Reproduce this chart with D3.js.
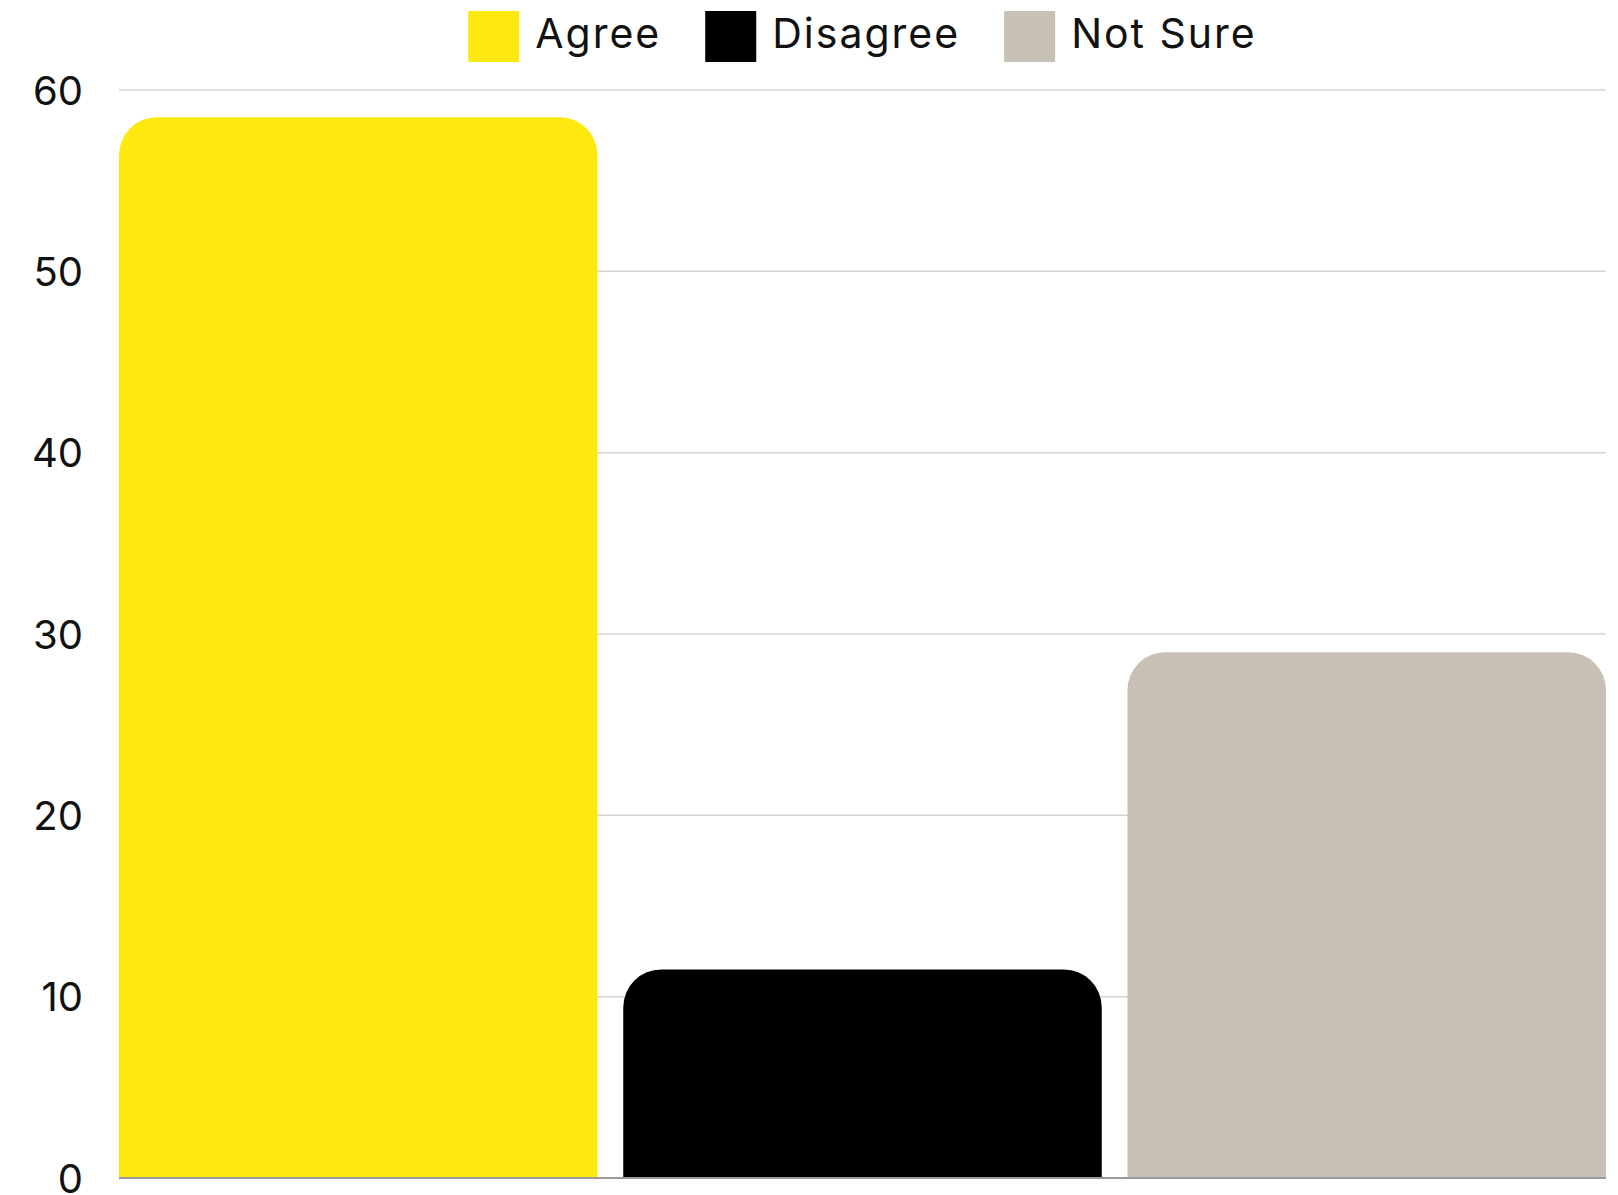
<!DOCTYPE html>
<html>
<head>
<meta charset="utf-8">
<script src="https://cdn.jsdelivr.net/npm/d3@7"></script>
<style>
    body { margin: 0; background: #fff; }
    text { font-family: "Inter", "Noto Sans", sans-serif; fill: #111; }
</style>
</head>
<body>
<div id="chart"></div>
<script>
// answers and shares (%)
const categories = ["Agree", "Disagree", "Not Sure"];
const values = [58.5, 11.5, 29.0];
const colors = ["#fde910", "#000000", "#c8c1b6"];
const yTicks = [0, 10, 20, 30, 40, 50, 60];

const width = 1618, height = 1195;
const margin = {top: 90, right: 12, bottom: 17, left: 119};
const innerW = width - margin.left - margin.right;
const innerH = height - margin.top - margin.bottom;

const svg = d3.select("#chart").append("svg")
    .attr("width", width)
    .attr("height", height);

const g = svg.append("g")
    .attr("transform", `translate(${margin.left}, ${margin.top})`);

const x = d3.scaleBand()
    .domain(categories)
    .range([0, innerW])
    .paddingInner(0.051)
    .paddingOuter(0);

const y = d3.scaleLinear()
    .domain([0, 60])
    .range([innerH, 0]);

// gridlines
g.selectAll(".grid")
    .data(yTicks.filter(d => d > 0))
    .enter().append("line")
    .attr("x1", 0)
    .attr("x2", innerW)
    .attr("y1", d => y(d))
    .attr("y2", d => y(d))
    .attr("stroke", "#d4d4d4")
    .attr("stroke-width", 1.5);

// y labels
g.selectAll(".ylab")
    .data(yTicks)
    .enter().append("text")
    .attr("x", -36)
    .attr("y", d => y(d))
    .attr("text-anchor", "end")
    .attr("dominant-baseline", "central")
    .style("font-size", "40px")
    .text(d => d);

// bars, only the top corners are rounded
const r = 38;
function barPath(x0, y0, w, h) {
    const rr = Math.min(r, h, w / 2);
    return `M${x0},${y0 + h}V${y0 + rr}A${rr},${rr} 0 0 1 ${x0 + rr},${y0}` +
        `H${x0 + w - rr}A${rr},${rr} 0 0 1 ${x0 + w},${y0 + rr}V${y0 + h}Z`;
}

g.selectAll(".bar")
    .data(categories)
    .enter().append("path")
    .attr("class", "bar")
    .attr("fill", (d, i) => colors[i])
    .attr("d", (d, i) => barPath(x(d), y(values[i]), x.bandwidth(), innerH - y(values[i])));

// baseline
g.append("line")
    .attr("x1", 0)
    .attr("x2", innerW)
    .attr("y1", innerH)
    .attr("y2", innerH)
    .attr("stroke", "#9a9a9a")
    .attr("stroke-width", 2);

// legend
const legend = svg.append("g");
const sq = 51, gapText = 16, gapItem = 44;
let cursor = 0;
categories.forEach((c, i) => {
    const item = legend.append("g").attr("transform", `translate(${cursor}, 0)`);
    item.append("rect")
        .attr("x", 0).attr("y", 11)
        .attr("width", sq).attr("height", sq)
        .attr("fill", colors[i]);
    const t = item.append("text")
        .attr("x", sq + gapText)
        .attr("y", 32.5)
        .attr("dominant-baseline", "central")
        .style("font-size", "41px")
        .style("letter-spacing", "2px")
        .text(c);
    cursor += sq + gapText + t.node().getComputedTextLength() + gapItem;
});
const legendW = cursor - gapItem;
legend.attr("transform", `translate(${margin.left + innerW / 2 - legendW / 2}, 0)`);
</script>
</body>
</html>
